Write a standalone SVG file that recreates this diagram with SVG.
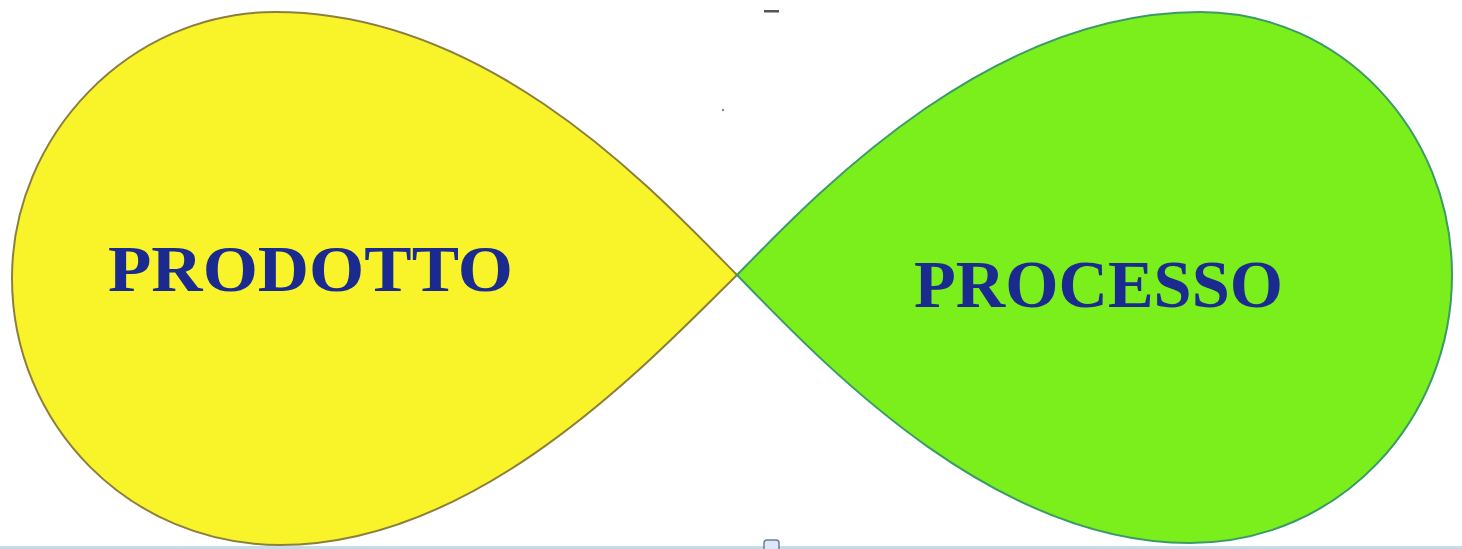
<svg xmlns="http://www.w3.org/2000/svg" width="1462" height="549" viewBox="0 0 1462 549">
<style>
.lbl{font-family:"Liberation Serif","Times New Roman",serif;font-weight:bold;fill:#1b2a8e;}
</style>
<rect x="0" y="0" width="1462" height="549" fill="#ffffff"/>
<g id="prodotto">
<path d="M737 275 C655 192 490 12 275 12 C130 12 12 135 12 278 C12 425 130 545 280 545 C480 545 650 360 737 275 Z" fill="#f9f42a" stroke="#8c7f3c" stroke-width="2"/>
<text class="lbl" x="108" y="291" font-size="66" textLength="405" lengthAdjust="spacingAndGlyphs">PRODOTTO</text>
</g>
<g id="processo">
<path d="M737 275 C820 190 990 12 1200 12 C1340 12 1452 130 1452 275 C1452 420 1340 543 1190 543 C990 543 820 360 737 275 Z" fill="#7bef1c" stroke="#3b9a68" stroke-width="2"/>
<text class="lbl" x="914" y="307" font-size="67" textLength="369" lengthAdjust="spacingAndGlyphs">PROCESSO</text>
</g>
<g id="connectors"/>
<g id="artifacts">
<rect x="764" y="10" width="15" height="2.5" fill="#555555"/>
<circle cx="723" cy="110" r="1.2" fill="#888888"/>
<rect x="0" y="546" width="1462" height="3" fill="#c6dbe5"/>
<rect x="764" y="540" width="15" height="12" rx="3" fill="#dce8f8" stroke="#6d7f96" stroke-width="1.5"/>
</g>
</svg>
